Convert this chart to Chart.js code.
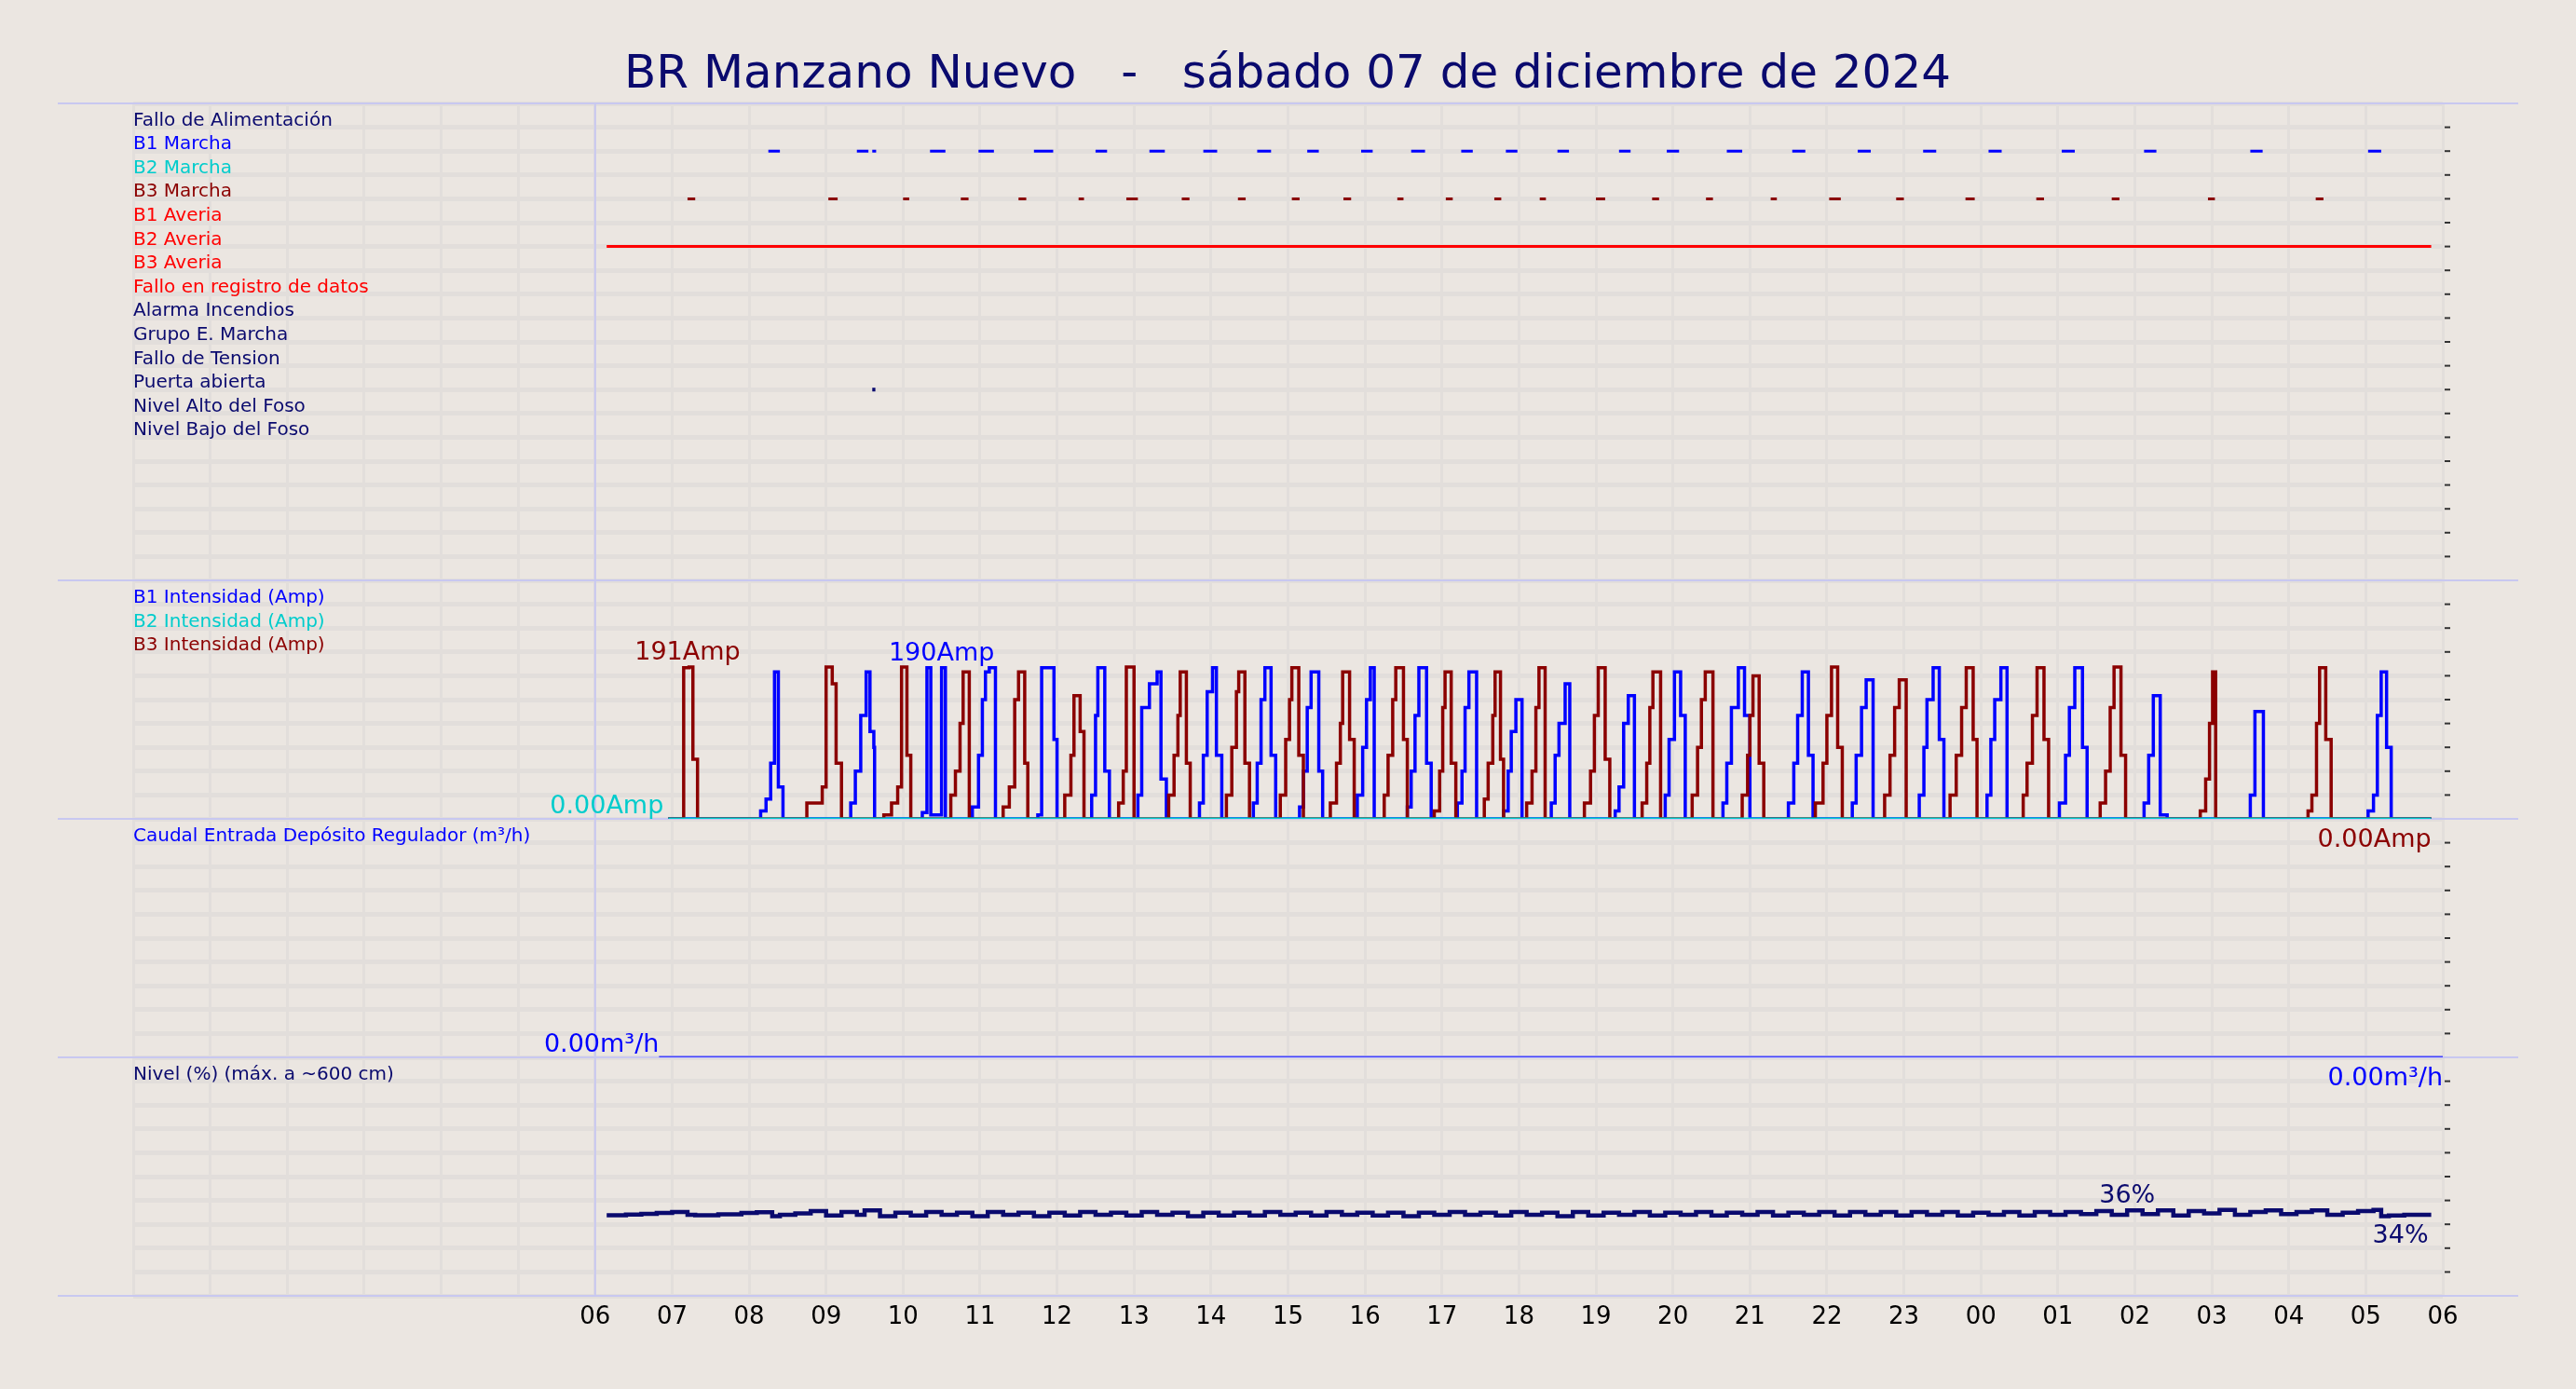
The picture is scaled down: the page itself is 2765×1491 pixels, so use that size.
<!DOCTYPE html>
<html><head><meta charset="utf-8">
<script src="https://cdn.jsdelivr.net/npm/chart.js@4"></script>
<style>html,body{margin:0;padding:0;background:#ebe6e1;}canvas{display:block}</style>
</head><body>
<div style="width:2765px;height:1491px"><canvas id="c"></canvas></div>
<script>
const title = 'BR Manzano Nuevo   -   sábado 07 de diciembre de 2024';
const digitalLabels = ['Fallo de Alimentación','B1 Marcha','B2 Marcha','B3 Marcha','B1 Averia','B2 Averia','B3 Averia','Fallo en registro de datos','Alarma Incendios','Grupo E. Marcha','Fallo de Tension','Puerta abierta','Nivel Alto del Foso','Nivel Bajo del Foso'];
const digitalColors = ['#0a0a6e','#0000ff','#00cccc','#8b0000','#ff0000','#ff0000','#ff0000','#ff0000','#0a0a6e','#0a0a6e','#0a0a6e','#0a0a6e','#0a0a6e','#0a0a6e'];
const hourTicks = [6,7,8,9,10,11,12,13,14,15,16,17,18,19,20,21,22,23,24,25,26,27,28,29,30];

const b1Marcha = [[8.25,8.4],[9.4,9.55],[9.6,9.65],[10.35,10.55],[10.98,11.18],[11.7,11.95],[12.5,12.65],[13.2,13.4],[13.9,14.08],[14.6,14.78],[15.25,15.4],[15.95,16.1],[16.6,16.78],[17.25,17.4],[17.83,17.98],[18.5,18.65],[19.3,19.45],[19.92,20.08],[20.7,20.9],[21.55,21.72],[22.4,22.57],[23.25,23.42],[24.1,24.27],[25.05,25.22],[26.12,26.28],[27.5,27.66],[29.03,29.2]];
const b3Marcha = [[7.2,7.3],[9.03,9.15],[10.0,10.08],[10.75,10.85],[11.5,11.6],[12.28,12.35],[12.9,13.05],[13.62,13.72],[14.35,14.45],[15.05,15.15],[15.72,15.82],[16.42,16.5],[17.05,17.14],[17.68,17.77],[18.27,18.35],[19.0,19.12],[19.73,19.82],[20.43,20.52],[21.27,21.35],[22.03,22.18],[22.9,23.0],[23.8,23.92],[24.72,24.82],[25.7,25.8],[26.95,27.04],[28.35,28.45]];
const b2Averia = [[6.15,29.85]];
const puertaAbierta = [[9.6,9.64]];

const b1Amp = [[6.95,0],
[8.15,10],[8.22,25],[8.28,70],[8.33,185],[8.38,40],[8.44,0],
[9.32,20],[9.38,60],[9.45,130],[9.52,185],[9.57,110],[9.62,90],[9.63,0],
[10.25,8],[10.31,190],[10.36,5],[10.47,5],[10.5,190],[10.55,0],
[10.9,15],[10.98,80],[11.03,150],[11.07,185],[11.12,190],[11.2,0],
[11.75,5],[11.8,190],[11.96,100],[12.0,0],
[12.45,30],[12.5,130],[12.53,190],[12.62,60],[12.68,0],
[13.05,30],[13.1,140],[13.2,170],[13.3,185],[13.35,50],[13.42,0],
[13.85,20],[13.9,80],[13.95,160],[14.02,190],[14.07,80],[14.14,0],
[14.55,20],[14.6,70],[14.65,150],[14.7,190],[14.78,80],[14.84,0],
[15.15,15],[15.2,60],[15.25,140],[15.3,185],[15.4,60],[15.45,0],
[15.9,30],[15.97,90],[16.02,150],[16.07,190],[16.12,0],
[16.55,15],[16.6,60],[16.65,130],[16.7,190],[16.8,70],[16.86,0],
[17.2,20],[17.26,60],[17.3,140],[17.35,185],[17.45,0],
[17.8,10],[17.86,60],[17.9,110],[17.96,150],[18.04,0],
[18.42,20],[18.47,80],[18.52,120],[18.6,170],[18.66,0],
[19.25,10],[19.3,40],[19.36,120],[19.42,155],[19.5,0],
[19.9,30],[19.95,100],[20.02,185],[20.1,130],[20.16,0],
[20.65,20],[20.7,70],[20.76,140],[20.85,190],[20.93,130],[21.0,0],
[21.5,20],[21.57,70],[21.62,130],[21.68,185],[21.76,80],[21.82,0],
[22.33,20],[22.38,80],[22.45,140],[22.51,175],[22.6,0],
[23.2,30],[23.26,90],[23.3,150],[23.38,190],[23.46,100],[23.52,0],
[24.08,30],[24.13,100],[24.18,150],[24.26,190],[24.34,0],
[25.02,20],[25.1,80],[25.15,140],[25.22,190],[25.32,90],[25.38,0],
[26.12,20],[26.18,80],[26.24,155],[26.33,5],[26.42,0],
[27.5,30],[27.56,135],[27.67,0],
[29.03,10],[29.1,30],[29.15,130],[29.2,185],[29.27,90],[29.33,0],[29.85,0]];

const b2Amp = [[6.95,0],[29.85,0]];

const b3Amp = [[6.95,0],
[7.15,190],[7.22,191],[7.27,75],[7.33,0],
[8.75,20],[8.95,40],[9.0,191],[9.08,170],[9.13,70],[9.2,0],
[9.75,5],[9.85,20],[9.93,40],[9.98,191],[10.05,80],[10.1,0],
[10.62,30],[10.68,60],[10.74,120],[10.78,185],[10.86,0],
[11.3,15],[11.38,40],[11.45,150],[11.5,185],[11.58,70],[11.62,0],
[12.1,30],[12.18,80],[12.22,155],[12.3,110],[12.35,0],
[12.8,20],[12.86,60],[12.9,191],[13.0,0],
[13.45,30],[13.52,80],[13.57,130],[13.6,185],[13.68,70],[13.73,0],
[14.2,30],[14.27,90],[14.33,160],[14.36,185],[14.44,70],[14.5,0],
[14.9,30],[14.97,100],[15.02,150],[15.05,190],[15.14,80],[15.2,0],
[15.55,20],[15.63,70],[15.68,120],[15.71,185],[15.8,100],[15.86,0],
[16.25,30],[16.3,80],[16.36,150],[16.4,190],[16.5,100],[16.55,0],
[16.9,10],[16.97,60],[17.01,140],[17.04,185],[17.12,70],[17.18,0],
[17.55,25],[17.6,70],[17.66,130],[17.69,185],[17.76,75],[17.8,0],
[18.1,20],[18.17,60],[18.22,140],[18.26,190],[18.34,0],
[18.85,20],[18.93,60],[18.98,130],[19.03,190],[19.12,75],[19.18,0],
[19.6,20],[19.66,70],[19.7,140],[19.74,185],[19.84,0],
[20.25,30],[20.32,90],[20.37,150],[20.42,185],[20.52,0],
[20.9,30],[20.97,80],[21.0,130],[21.04,180],[21.12,70],[21.18,0],
[21.85,20],[21.95,70],[22.0,130],[22.06,191],[22.14,90],[22.2,0],
[22.75,30],[22.82,80],[22.88,140],[22.94,175],[23.03,0],
[23.6,30],[23.68,80],[23.75,140],[23.81,190],[23.9,100],[23.95,0],
[24.55,30],[24.6,70],[24.67,130],[24.73,190],[24.82,100],[24.88,0],
[25.55,20],[25.62,60],[25.68,140],[25.73,191],[25.82,80],[25.88,0],
[26.85,10],[26.92,50],[26.97,120],[27.01,185],[27.05,0],
[28.25,10],[28.3,30],[28.36,120],[28.4,190],[28.48,100],[28.55,0],[29.85,0]];

const caudal = [[6.83,0],[30,0]];

const nivelHours = [6.15,6.4,6.6,6.8,7.0,7.2,7.3,7.6,7.9,8.1,8.3,8.4,8.6,8.8,9.0,9.2,9.4,9.5,9.7,9.9,10.1,10.3,10.5,10.7,10.9,11.1,11.3,11.5,11.7,11.9,12.1,12.3,12.5,12.7,12.9,13.1,13.3,13.5,13.7,13.9,14.1,14.3,14.5,14.7,14.9,15.1,15.3,15.5,15.7,15.9,16.1,16.3,16.5,16.7,16.9,17.1,17.3,17.5,17.7,17.9,18.1,18.3,18.5,18.7,18.9,19.1,19.3,19.5,19.7,19.9,20.1,20.3,20.5,20.7,20.9,21.1,21.3,21.5,21.7,21.9,22.1,22.3,22.5,22.7,22.9,23.1,23.3,23.5,23.7,23.9,24.1,24.3,24.5,24.7,24.9,25.1,25.3,25.5,25.7,25.9,26.1,26.3,26.5,26.7,26.9,27.1,27.3,27.5,27.7,27.9,28.1,28.3,28.5,28.7,28.9,29.1,29.2,29.3,29.5,29.85];
const nivelValues = [33.8,34.1,34.4,34.8,35.2,34.0,33.8,34.2,34.8,35.1,33.4,34.0,34.6,35.5,33.7,35.2,34.0,35.8,33.4,34.9,33.7,35.2,34.0,34.9,33.4,35.2,34.0,34.9,33.4,34.9,33.7,35.2,34.0,34.9,33.7,35.2,34.0,34.9,33.4,34.9,33.7,34.9,33.7,35.2,34.0,34.9,33.7,35.2,34.0,34.9,33.7,34.9,33.4,34.9,34.0,35.2,34.0,34.9,33.7,35.2,34.0,34.9,33.4,35.2,33.7,34.9,34.0,35.2,33.7,34.9,34.0,35.2,33.7,34.9,34.0,35.2,33.7,34.9,34.0,35.2,33.7,35.2,34.0,35.2,33.7,35.2,34.0,35.2,33.7,34.9,34.0,35.2,33.7,35.2,34.0,35.2,34.3,35.5,34.0,35.8,34.3,35.8,33.7,35.5,34.6,36.0,34.0,35.2,35.8,34.3,35.2,35.8,34.0,34.9,35.5,36.0,33.4,33.7,34.0,34.0];

const pts = a => a.map(p => ({x:p[0], y:p[1]}));
const dashes = (segs,row) => { const o=[]; segs.forEach(s=>{o.push({x:s[0],y:row},{x:s[1],y:row},{x:s[1],y:null});}); return o; };
const nivel = nivelHours.map((h,i)=>({x:h,y:nivelValues[i]}));

const BLUE='#0000ff', CYAN='#00cccc', DRED='#8b0000', NAVY='#0a0a6e', SEP='#c8c8f0';
const GRID='#e2dedb';

const textPlugin = {
  id:'texts',
  beforeDatasetsDraw(chart){
    const ctx=chart.ctx, sx=chart.scales.x, ca=chart.chartArea;
    const yD=chart.scales.yD, yA=chart.scales.yA, yQ=chart.scales.yQ, yN=chart.scales.yN;
    ctx.save();
    ctx.strokeStyle=SEP; ctx.lineWidth=2;
    [yD.top,yA.top,yQ.top,yN.top,yN.bottom].forEach(y=>{ctx.beginPath();ctx.moveTo(62,y);ctx.lineTo(2703,y);ctx.stroke();});
    const x6=sx.getPixelForValue(6);
    ctx.beginPath();ctx.moveTo(x6,yD.top);ctx.lineTo(x6,yN.bottom);ctx.stroke();
    // small tick dashes at right edge
    ctx.strokeStyle='#333'; ctx.lineWidth=2;
    [yD,yA,yQ,yN].forEach(s=>{ s.ticks.forEach(t=>{ const y=s.getPixelForValue(t.value); if(y<=s.top+2||y>=s.bottom-2) return;
      ctx.beginPath(); ctx.moveTo(ca.right+2,y); ctx.lineTo(ca.right+8,y); ctx.stroke(); }); });
    ctx.restore();
  },
  afterDraw(chart){
    const ctx=chart.ctx, ca=chart.chartArea, sx=chart.scales.x;
    const yD=chart.scales.yD, yA=chart.scales.yA, yQ=chart.scales.yQ, yN=chart.scales.yN;
    ctx.save();
    ctx.fillStyle=NAVY; ctx.font='50px "DejaVu Sans"'; ctx.textAlign='center'; ctx.textBaseline='middle';
    ctx.fillText(title,1382,81);
    ctx.font='20px "DejaVu Sans"'; ctx.textAlign='left'; ctx.textBaseline='alphabetic';
    digitalLabels.forEach((l,i)=>{ctx.fillStyle=digitalColors[i]; ctx.fillText(l,ca.left,yD.getPixelForValue(i)-2);});
    [['B1 Intensidad (Amp)',BLUE],['B2 Intensidad (Amp)',CYAN],['B3 Intensidad (Amp)',DRED]].forEach((t,i)=>{ctx.fillStyle=t[1]; ctx.fillText(t[0],ca.left,yA.top+24+i*25.7);});
    ctx.fillStyle=BLUE; ctx.fillText('Caudal Entrada Depósito Regulador (m³/h)',ca.left,yQ.top+24);
    ctx.fillStyle=NAVY; ctx.fillText('Nivel (%) (máx. a ~600 cm)',ca.left,yN.top+24);
    ctx.font='27px "DejaVu Sans"'; ctx.textAlign='center';
    ctx.fillStyle=DRED; ctx.fillText('191Amp',sx.getPixelForValue(7.2),yA.getPixelForValue(191)-8);
    ctx.fillStyle=BLUE; ctx.fillText('190Amp',sx.getPixelForValue(10.5),yA.getPixelForValue(190)-8);
    ctx.textAlign='right';
    ctx.fillStyle=CYAN; ctx.fillText('0.00Amp',sx.getPixelForValue(6.95)-5,yA.getPixelForValue(0)-6);
    ctx.fillStyle=DRED; ctx.fillText('0.00Amp',sx.getPixelForValue(29.85),yA.getPixelForValue(0)+30);
    ctx.fillStyle=BLUE; ctx.fillText('0.00m³/h',sx.getPixelForValue(6.83),yQ.getPixelForValue(0)-6);
    ctx.fillText('0.00m³/h',sx.getPixelForValue(30),yQ.getPixelForValue(0)+30);
    ctx.fillStyle=NAVY; ctx.textAlign='center';
    ctx.fillText('36%',sx.getPixelForValue(25.9),yN.getPixelForValue(36)-8);
    ctx.fillText('34%',sx.getPixelForValue(29.45),yN.getPixelForValue(34)+30);
    ctx.restore();
  }
};

const hideY = (stackWeight, min, max, step, reverse) => ({
  type:'linear', position:'left', stack:'p', stackWeight, min, max, reverse:!!reverse, offset:false,
  ticks:{display:false, stepSize:step}, border:{display:false},
  grid:{color:GRID, lineWidth:5, drawTicks:false},
  afterFit:s=>{s.width=0;}
});

const line = (data, color, yAxisID, w, extra) => Object.assign({data, borderColor:color, backgroundColor:color, yAxisID, borderWidth:w, pointRadius:0, stepped:'before', spanGaps:false, fill:false, tension:0}, extra||{});

new Chart(document.getElementById('c'), {
  type:'line',
  data:{datasets:[
    line(dashes(b1Marcha,1),BLUE,'yD',3),
    line(dashes(b3Marcha,3),DRED,'yD',3),
    line(dashes(b2Averia,5),'#ff0000','yD',3),
    line(dashes(puertaAbierta,11),NAVY,'yD',4),
    line(pts(b2Amp),CYAN,'yA',3),
    line(pts(b3Amp),DRED,'yA',3.5),
    line(pts(b1Amp),BLUE,'yA',3.5),
    line(pts(caudal),'#4444ff','yQ',3),
    line(nivel,NAVY,'yN',4.5)
  ]},
  options:{
    responsive:true, maintainAspectRatio:false, animation:false,
    layout:{padding:{left:143,right:143,top:111,bottom:0}},
    plugins:{legend:{display:false}, tooltip:{enabled:false}},
    scales:{
      x:{type:'linear', min:0, max:30,
        ticks:{stepSize:1, autoSkip:false, color:'#000', font:{family:'DejaVu Sans', size:26}, padding:8,
          callback:v=> hourTicks.includes(v) ? String(v%24).padStart(2,'0') : ''},
        grid:{color:GRID, lineWidth:3, drawTicks:false}, border:{display:false},
        afterFit:s=>{s.height=100;}},
      yN: hideY(1,0,100,10),
      yQ: hideY(1,0,10,1),
      yA: hideY(1,0,300,30),
      yD: hideY(2,-1,19,1,true)
    }
  },
  plugins:[textPlugin]
});
</script></body></html>
